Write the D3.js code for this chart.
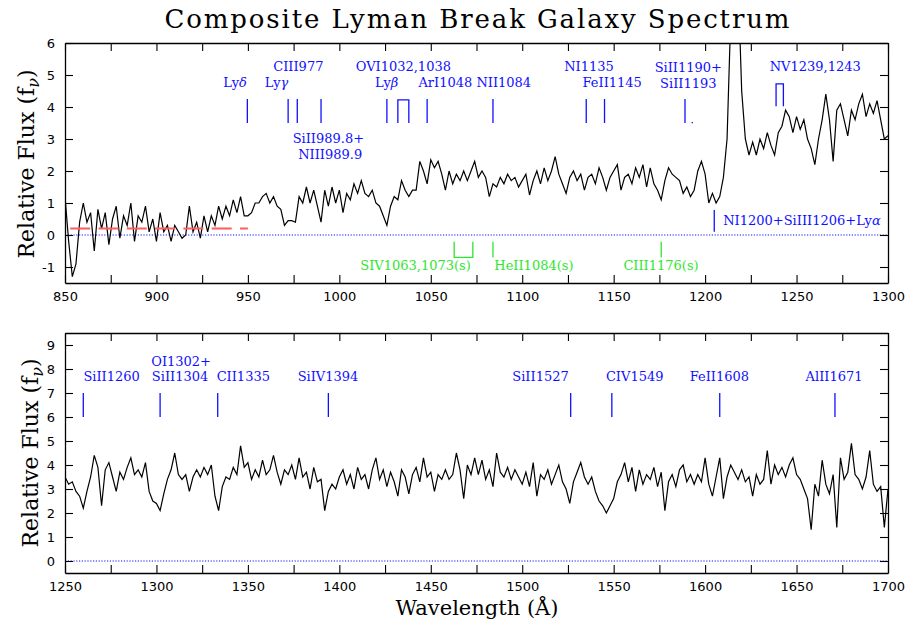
<!DOCTYPE html>
<html><head><meta charset="utf-8">
<script src="https://cdn.jsdelivr.net/npm/d3@7"></script>
<style>body{margin:0;background:#fff} svg{display:block;background:#fff}</style>
</head><body>
<svg id="c" width="905" height="622"></svg>
<script>
// ---------- DATA ----------
const chartTitle = "Composite Lyman Break Galaxy Spectrum";
const topWave = d3.range(850, 1301, 2);
const topFlux = [
 1.2,-0.2,-1.3,-0.9,0.4,1.0,0.4,0.7,-0.5,0.8,
 0.2,0.7,-0.3,0.5,0.9,-0.1,0.6,0.3,1.0,-0.2,
 0.6,0.4,0.9,0.1,0.5,-0.2,0.7,0.1,0.3,-0.2,
 0.3,0.1,-0.1,0.0,0.9,0.1,0.4,-0.1,0.6,0.1,
 0.6,0.3,0.9,0.5,0.9,0.6,1.1,0.7,1.2,0.6,
 0.6,0.7,1.0,1.0,1.2,1.3,1.0,1.2,0.9,0.8,
 0.3,0.45,0.45,0.4,1.2,1.0,1.5,1.0,1.4,0.9,
 0.4,1.4,0.9,1.5,1.0,1.4,0.7,1.3,1.1,1.6,
 1.3,1.7,1.3,1.2,1.4,1.0,0.9,0.6,0.3,0.9,
 1.2,1.1,1.7,1.4,1.2,1.4,1.4,2.3,2.0,1.6,
 2.35,2.1,2.3,1.9,1.4,2.0,1.6,1.9,1.7,2.0,
 1.7,2.0,2.3,1.8,2.0,1.8,1.2,1.6,1.5,1.8,
 1.6,1.9,1.7,1.8,1.5,1.7,1.9,1.25,1.7,2.0,
 1.6,2.1,1.7,2.0,2.45,1.9,1.6,1.3,1.8,2.0,
 1.7,1.9,1.4,1.8,1.9,1.6,2.1,1.8,1.4,1.8,
 2.0,2.2,1.4,1.8,1.9,1.6,2.1,1.8,2.2,1.5,
 2.1,1.6,1.4,1.1,1.7,2.1,1.9,1.8,1.7,1.3,
 1.5,1.2,1.4,2.0,2.3,1.9,1.0,1.3,1.0,1.2,
 1.8,3.0,6.8,9.0,8.0,4.5,3.0,2.5,2.9,2.5,
 3.0,2.7,3.2,2.8,2.5,3.2,3.4,3.9,3.7,3.2,
 3.7,3.3,3.6,3.0,2.7,2.2,3.0,3.6,4.4,3.6,
 2.3,3.9,4.1,3.6,3.1,3.9,3.6,4.1,4.4,3.7,
 4.1,3.8,4.2,3.6,3.0,3.1
];
const botWave = d3.range(1250, 1701, 2);
const botFlux = [
 3.5,3.2,3.3,2.9,2.7,2.2,2.9,3.5,4.4,3.9,
 2.3,3.8,4.1,3.5,2.9,3.7,3.4,3.9,4.3,3.6,
 3.8,3.5,4.1,2.9,2.5,2.4,2.1,2.8,3.4,3.8,
 4.5,3.6,3.4,3.6,2.9,3.5,3.8,3.5,3.9,3.6,
 4.0,2.7,2.1,3.1,3.5,3.4,3.9,3.6,4.8,3.9,
 4.1,3.4,3.8,3.5,4.2,3.6,3.8,4.4,3.7,3.2,
 3.8,3.6,4.0,3.4,4.3,3.5,3.7,3.0,3.9,3.3,
 3.4,2.1,2.9,3.2,3.0,3.5,3.8,3.2,3.6,3.0,
 3.9,3.4,3.6,3.0,3.8,4.3,3.4,3.8,3.1,3.7,
 3.3,2.7,3.8,3.5,2.8,3.6,3.9,3.3,4.3,3.5,
 3.7,2.9,3.6,3.4,3.8,3.4,3.6,4.5,3.8,2.6,
 4.0,3.6,4.3,3.6,4.2,3.4,3.8,3.1,4.5,3.7,
 3.5,3.9,3.4,3.8,3.5,3.2,3.7,3.1,4.1,2.7,
 3.6,3.4,3.8,3.2,3.6,4.0,3.3,3.0,2.4,3.3,
 3.7,4.1,3.5,3.2,3.5,2.9,2.5,2.3,2.0,2.3,
 2.6,3.3,3.6,4.1,3.3,3.9,2.9,3.8,3.2,3.6,
 3.4,3.9,3.1,3.7,2.1,3.3,3.6,3.1,3.8,4.0,
 3.3,3.6,3.2,3.6,3.3,4.3,3.2,2.7,3.5,4.3,
 2.6,3.5,4.0,3.7,3.4,3.8,3.3,3.5,2.7,3.6,
 3.2,3.4,4.6,3.2,4.0,3.6,3.9,3.5,4.0,4.3,
 3.6,3.4,3.0,2.6,1.3,3.2,2.7,4.2,3.2,2.8,
 3.6,1.4,4.3,3.4,3.7,4.9,3.6,3.4,3.0,3.5,
 4.6,3.2,2.9,3.1,1.4,3.0
];
const topXTicks = [850,900,950,1000,1050,1100,1150,1200,1250,1300];
const botXTicks = [1250,1300,1350,1400,1450,1500,1550,1600,1650,1700];
const topYTicks = [-1,0,1,2,3,4,5,6];
const botYTicks = [0,1,2,3,4,5,6,7,8,9];
const topXDomain = [850,1300], topYDomain = [-1.5,6];
const botXDomain = [1250,1700], botYDomain = [-0.5,9.5];
// continuum level of the Lyman-continuum region
const lycLevel = 0.2, lycRange = [850, 950];
// line identifications (rest wavelengths of marks)
const topSingleLines = [949.7, 972, 977, 990, 1026, 1048, 1084, 1135, 1145, 1189];
const topPairLines = [[1032, 1038], [1238.8, 1242.8]];
const topDotLine = [1193];
const topLyaLine = [1205];
const topStellarSingle = [1084, 1176];
const topStellarPair = [[1062.8, 1073]];
const botLines = [1260, 1302, 1333.5, 1394, 1526.5, 1549, 1608, 1671];
const topLabels = ["Lyδ","Lyγ","CIII977","SiII989.8+","NIII989.9","Lyβ","OVI1032,1038","ArI1048","NII1084","NI1135","FeII1145","SiII1190+","SiII1193","NV1239,1243"];
const topLyaLabel = "NI1200+SiIII1206+Lyα";
const topStellarLabels = ["SIV1063,1073(s)","HeII1084(s)","CIII1176(s)"];
const botLabels = ["SiII1260","OI1302+","SiII1304","CII1335","SiIV1394","SiII1527","CIV1549","FeII1608","AlII1671"];

// ---------- LAYOUT ----------
const topLabelPos = [[943,4.63],[965.7,4.63],[977.6,5.13],[994,2.86],[995,2.39],[1025.9,4.63],[1035,5.13],[1058,4.63],[1089.9,4.63],[1136.5,5.13],[1149.2,4.63],[1190.8,5.1],[1190.8,4.6],[1260.2,5.13]];
const topLyaLabelPos = [1209.9, 0.31];
const topStellarLabelPos = [[1041.7,-1.1],[1106.4,-1.1],[1175.9,-1.1]];
const botLabelPos = [[1275.5,7.5],[1313.5,8.13],[1312.9,7.5],[1347.5,7.5],[1393.8,7.5],[1510,7.5],[1561.5,7.5],[1607.8,7.5],[1670.5,7.5]];

const BLUE = "#1010ff", GREEN = "#2ee62e", RED = "#ff5c5c";
const svg = d3.select("#c");
const LEFT = 65, RIGHT = 888;

function richText(sel, str) {
  str.split(/([αβγδν])/).filter(s => s.length).forEach(s => {
    const t = sel.append("tspan").text(s);
    if (/[αβγδν]/.test(s)) t.attr("font-style", "italic");
  });
}

function drawPanel(o) {
  const x = d3.scaleLinear().domain(o.xd).range([LEFT, RIGHT]);
  const y = d3.scaleLinear().domain(o.yd).range([o.bottom, o.top]);
  const g = svg.append("g");
  const cid = "clip" + o.id;
  svg.append("clipPath").attr("id", cid).append("rect")
    .attr("x", LEFT).attr("y", o.top).attr("width", RIGHT - LEFT).attr("height", o.bottom - o.top);

  // zero line
  g.append("line").attr("x1", LEFT).attr("x2", RIGHT).attr("y1", y(0)).attr("y2", y(0))
    .attr("stroke", BLUE).attr("stroke-width", 1).attr("stroke-dasharray", "1.2,1.6");

  // spectrum
  const line = d3.line().x(d => x(d[0])).y(d => y(d[1]));
  g.append("path").datum(o.wave.map((w, i) => [w, o.flux[i]]))
    .attr("clip-path", `url(#${cid})`)
    .attr("d", line).attr("fill", "none").attr("stroke", "#000").attr("stroke-width", 1.2)
    .attr("stroke-linejoin", "miter");

  // axes
  const minor = d3.range(o.xd[0], o.xd[1] + 1, 25);
  const style = sel => {
    sel.select(".domain").attr("stroke", "#000").attr("stroke-width", 1.3);
    sel.selectAll(".tick line").attr("stroke", "#000").attr("stroke-width", 1.1);
    sel.selectAll("text").attr("fill", "#000");
    sel.attr("font-family", "DejaVu Sans").attr("font-size", 13);
  };
  g.append("g").attr("transform", `translate(0,${o.bottom})`)
    .call(d3.axisBottom(x).tickValues(minor).tickSize(-8).tickSizeOuter(0).tickPadding(9)
      .tickFormat(d => o.xt.includes(d) ? String(d) : "")).call(style);
  g.append("g").attr("transform", `translate(0,${o.top})`)
    .call(d3.axisTop(x).tickValues(minor).tickSize(-8).tickSizeOuter(0).tickFormat("")).call(style);
  g.append("g").attr("transform", `translate(${LEFT},0)`)
    .call(d3.axisLeft(y).tickValues(o.yt).tickSize(-8).tickSizeOuter(0).tickPadding(10)
      .tickFormat(d => String(d))).call(style);
  g.append("g").attr("transform", `translate(${RIGHT},0)`)
    .call(d3.axisRight(y).tickValues(o.yt).tickSize(-8).tickSizeOuter(0).tickFormat("")).call(style);

  // y label
  const yl = g.append("text").attr("transform", `translate(${o.ylx},${o.ylc}) rotate(-90)`)
    .attr("text-anchor", "middle").attr("font-family", "DejaVu Serif").attr("font-size", 22)
    .attr("fill", "#000");
  yl.append("tspan").text("Relative Flux (f");
  yl.append("tspan").text("ν").attr("font-style", "italic").attr("font-size", 16).attr("dy", 5);
  yl.append("tspan").text(")").attr("dy", -5);
  return {x, y, g};
}

// ---- Title ----
svg.append("text").attr("x", 477).attr("y", 28).attr("text-anchor", "middle")
  .attr("font-family", "DejaVu Serif").attr("font-size", 26).attr("fill", "#000")
  .attr("textLength", 625).attr("lengthAdjust", "spacing").text(chartTitle);

// ---- Top panel ----
const T = drawPanel({id: "t", xd: topXDomain, yd: topYDomain, top: 43, bottom: 283,
  wave: topWave, flux: topFlux, xt: topXTicks, yt: topYTicks, ylx: 34, ylc: 164});

// Lyman continuum level
T.g.append("line").attr("x1", T.x(lycRange[0])).attr("x2", T.x(lycRange[1]))
  .attr("y1", T.y(lycLevel)).attr("y2", T.y(lycLevel))
  .attr("stroke", RED).attr("stroke-width", 2).attr("stroke-dasharray", "20,8.3")
  .attr("stroke-dashoffset", 23.1);

function vline(g, x, y, w, v1, v2, col) {
  g.append("line").attr("x1", x(w)).attr("x2", x(w)).attr("y1", y(v1)).attr("y2", y(v2))
    .attr("stroke", col).attr("stroke-width", 1.3);
}
function bracket(g, x, y, pair, vBase, vEnd, col) {
  const p = d3.path();
  p.moveTo(x(pair[0]), y(vBase)); p.lineTo(x(pair[0]), y(vEnd));
  p.lineTo(x(pair[1]), y(vEnd)); p.lineTo(x(pair[1]), y(vBase));
  g.append("path").attr("d", p.toString()).attr("fill", "none").attr("stroke", col).attr("stroke-width", 1.3);
}
function label(g, x, y, str, pos, col, anchor) {
  const t = g.append("text").attr("x", x(pos[0])).attr("y", y(pos[1]))
    .attr("text-anchor", anchor || "middle").attr("font-family", "DejaVu Serif")
    .attr("font-size", 13).attr("fill", col);
  richText(t, str);
}

topSingleLines.forEach(w => vline(T.g, T.x, T.y, w, 3.5, 4.25, BLUE));
bracket(T.g, T.x, T.y, topPairLines[0], 3.5, 4.22, BLUE);
bracket(T.g, T.x, T.y, topPairLines[1], 4.02, 4.72, BLUE);
topDotLine.forEach(w => vline(T.g, T.x, T.y, w, 3.49, 3.53, BLUE));
topLyaLine.forEach(w => vline(T.g, T.x, T.y, w, 0.1, 0.78, BLUE));
topStellarSingle.forEach(w => vline(T.g, T.x, T.y, w, -0.21, -0.7, GREEN));
topStellarPair.forEach(pr => bracket(T.g, T.x, T.y, pr, -0.21, -0.7, GREEN));
topLabels.forEach((s, i) => label(T.g, T.x, T.y, s, topLabelPos[i], BLUE));
label(T.g, T.x, T.y, topLyaLabel, topLyaLabelPos, BLUE, "start");
topStellarLabels.forEach((s, i) => label(T.g, T.x, T.y, s, topStellarLabelPos[i], GREEN));

// ---- Bottom panel ----
const B = drawPanel({id: "b", xd: botXDomain, yd: botYDomain, top: 333, bottom: 573,
  wave: botWave, flux: botFlux, xt: botXTicks, yt: botYTicks, ylx: 38, ylc: 453});
botLines.forEach(w => vline(B.g, B.x, B.y, w, 6, 7, BLUE));
botLabels.forEach((s, i) => label(B.g, B.x, B.y, s, botLabelPos[i], BLUE));

// x label
svg.append("text").attr("x", 477).attr("y", 615).attr("text-anchor", "middle")
  .attr("font-family", "DejaVu Serif").attr("font-size", 21).attr("fill", "#000")
  .text("Wavelength (Å)");
</script>
</body></html>
